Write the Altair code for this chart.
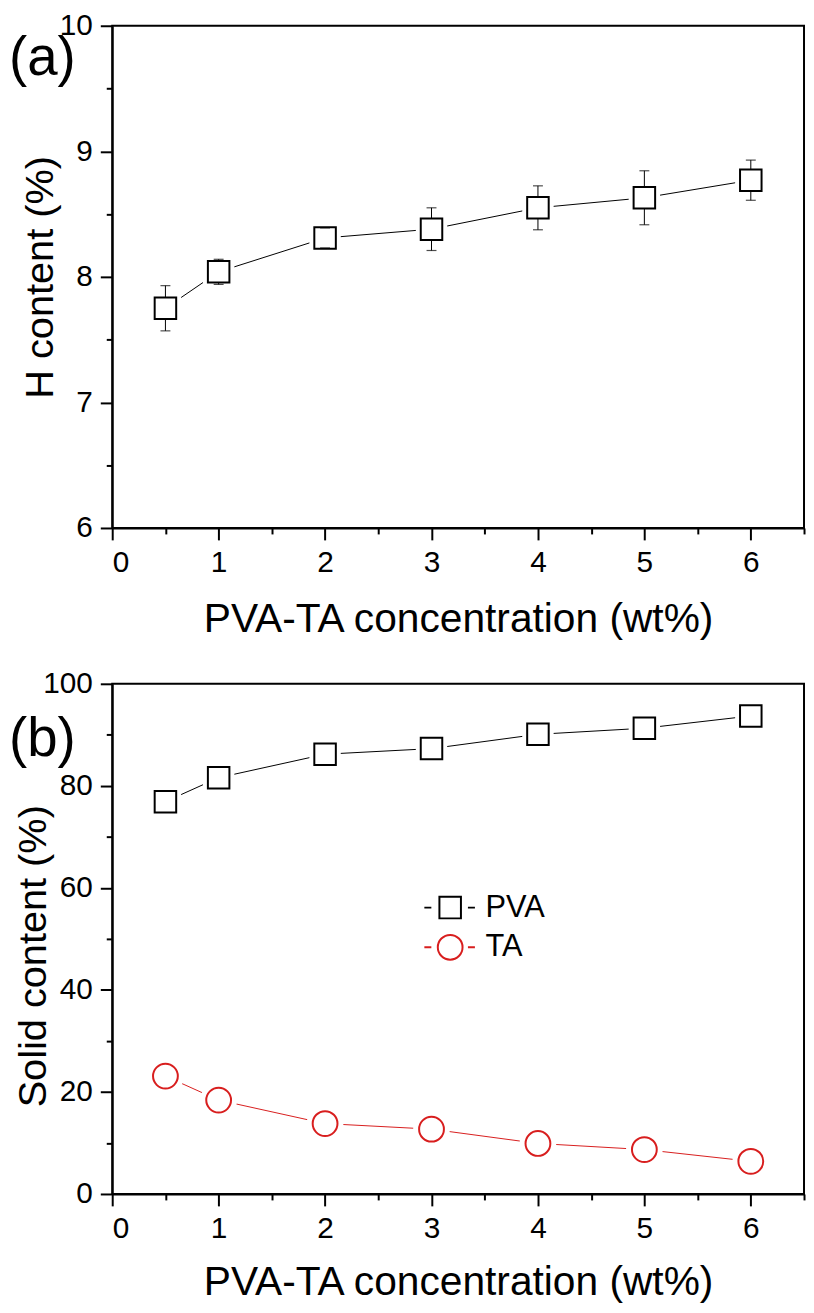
import altair as alt
import pandas as pd

# ---------------- data ----------------
conc = [0.5, 1, 2, 3, 4, 5, 6]
h_content = [7.75, 8.04, 8.31, 8.38, 8.55, 8.63, 8.77]
h_error = [0.18, 0.10, 0.08, 0.17, 0.175, 0.215, 0.16]
pva_solid = [76.9, 81.6, 86.2, 87.3, 90.1, 91.3, 93.7]
ta_solid = [23.1, 18.4, 13.8, 12.7, 9.9, 8.7, 6.4]
series_names = ["PVA", "TA"]

x_ticks = [0, 0.5, 1, 1.5, 2, 2.5, 3, 3.5, 4, 4.5, 5, 5.5, 6, 6.5]
h_ticks = [6, 6.5, 7, 7.5, 8, 8.5, 9, 9.5, 10]
solid_ticks = [0, 10, 20, 30, 40, 50, 60, 70, 80, 90, 100]

x_title = "PVA-TA concentration (wt%)"
h_title = "H content (%)"
solid_title = "Solid content (%)"
panel_labels = ["(a)", "(b)"]

# ---------------- style ----------------
FONT = "Liberation Sans"
BLACK = "#000000"
RED = "#d81e1e"
series_colors = [BLACK, RED]

# legend symbols: short dash - marker - short dash (Origin style)
PVA_SYMBOL = "M-2.4,0H-1.75M-1,-1H1V1H-1ZM1.65,0H2.3"
TA_SYMBOL = "M-2.4,0H-1.75M1.15,0A1.15,1.15,0,1,1,-1.15,0A1.15,1.15,0,1,1,1.15,0ZM1.65,0H2.3"

dfa = pd.DataFrame({
    "conc": conc,
    "h": h_content,
    "lo": [v - e for v, e in zip(h_content, h_error)],
    "hi": [v + e for v, e in zip(h_content, h_error)],
})

dfb = pd.DataFrame({
    "conc": conc + conc,
    "solid": pva_solid + ta_solid,
    "series": [series_names[0]] * len(conc) + [series_names[1]] * len(conc),
})


def make_axis(values, major_test, title, **kw):
    return alt.Axis(
        values=values,
        labelExpr=f"({major_test}) ? format(datum.value, 'd') : ''",
        tickSize={"condition": {"test": major_test, "value": 12}, "value": 6},
        title=title,
        **kw,
    )


def panel_title(text, dy):
    return alt.TitleParams(
        text=text, anchor="start", frame="group", orient="top",
        dx=-104, dy=dy, offset=0,
        fontSize=55, font=FONT, fontWeight="normal", color=BLACK,
    )


X_SCALE = alt.Scale(domain=[0, 6.5], nice=False, zero=False)

# ---------------- panel (a) ----------------
xa = alt.X("conc:Q", scale=X_SCALE,
           axis=make_axis(x_ticks, "datum.value % 1 === 0", x_title,
                          titlePadding=22))
ya = alt.Y("h:Q", scale=alt.Scale(domain=[6, 10], nice=False, zero=False),
           axis=make_axis(h_ticks, "datum.value % 1 === 0", h_title,
                          titleX=-60, titleBaseline="alphabetic"))

base_a = alt.Chart(dfa)
line_a = base_a.mark_line(color=BLACK, strokeWidth=1).encode(x=xa, y=ya)
halo_a = base_a.mark_point(shape="square", filled=True, color="white",
                           opacity=1, size=1000, strokeWidth=0).encode(x=xa, y=ya)
err_a = base_a.mark_rule(color=BLACK, strokeWidth=1).encode(x=xa, y="lo:Q", y2="hi:Q")
pts_a = base_a.mark_point(shape="square", filled=True, fill="white", stroke=BLACK,
                          strokeWidth=2, opacity=1, size=470).encode(x=xa, y=ya)
cap_lo = base_a.mark_tick(orient="horizontal", size=10, thickness=1.2,
                          color=BLACK).encode(x=xa, y="lo:Q")
cap_hi = base_a.mark_tick(orient="horizontal", size=10, thickness=1.2,
                          color=BLACK).encode(x=xa, y="hi:Q")

chart_a = alt.layer(line_a, halo_a, err_a, pts_a, cap_lo, cap_hi).properties(
    width=697, height=506, title=panel_title(panel_labels[0], 77)
)

# ---------------- panel (b) ----------------
xb = alt.X("conc:Q", scale=X_SCALE,
           axis=make_axis(x_ticks, "datum.value % 1 === 0", x_title,
                          titlePadding=19))
yb = alt.Y("solid:Q", scale=alt.Scale(domain=[0, 100], nice=False),
           axis=make_axis(solid_ticks, "datum.value % 20 === 0", solid_title,
                          titleX=-67, titleY=274, titleBaseline="alphabetic"))

base_b = alt.Chart(dfb)
layers_b = []
shapes = ["square", "circle"]
halo_sizes = [1000, 1370]
marker_sizes = [470, 625]
for name, col, shp, hs, ms in zip(series_names, series_colors, shapes,
                                  halo_sizes, marker_sizes):
    sub = base_b.transform_filter(alt.datum.series == name)
    layers_b.append(sub.mark_line(color=col, strokeWidth=1).encode(x=xb, y=yb))
    layers_b.append(sub.mark_point(shape=shp, filled=True, color="white", opacity=1,
                                   size=hs, strokeWidth=0).encode(x=xb, y=yb))
    layers_b.append(sub.mark_point(shape=shp, filled=True, fill="white", stroke=col,
                                   strokeWidth=2, opacity=1, size=ms).encode(x=xb, y=yb))

legend_b = alt.Legend(
    title=None, orient="none", legendX=325, legendY=210, padding=0,
    symbolSize=470, symbolStrokeWidth=2, symbolFillColor="transparent",
    labelFont=FONT, labelFontSize=31, labelColor=BLACK, labelOffset=20,
    rowPadding=8,
    labelExpr="datum.label === 'TA' ? '\u00a0TA' : datum.label",
)
legend_layer = base_b.mark_point(filled=False, opacity=0, strokeWidth=2).encode(
    x=xb, y=yb,
    color=alt.Color("series:N", scale=alt.Scale(domain=series_names, range=series_colors),
                    legend=legend_b),
    shape=alt.Shape("series:N", scale=alt.Scale(domain=series_names,
                                                range=[PVA_SYMBOL, TA_SYMBOL]),
                    legend=legend_b),
)
layers_b.append(legend_layer)

chart_b = alt.layer(*layers_b).properties(
    width=697, height=514, title=panel_title(panel_labels[1], 100)
)

chart = alt.vconcat(chart_a, chart_b, spacing=28).resolve_legend(
    color="independent", shape="independent"
).properties(
    padding={"left": 0, "top": -3, "right": 0, "bottom": 0}
).configure_axis(
    domainColor=BLACK, domainWidth=2, tickColor=BLACK, tickWidth=2,
    labelFont=FONT, labelFontSize=30, labelColor=BLACK, labelPadding=8,
    titleFont=FONT, titleColor=BLACK, titleFontWeight="normal", grid=False,
).configure_axisX(
    titleFontSize=41,
).configure_axisY(
    titleFontSize=40,
).configure_view(
    stroke=BLACK, strokeWidth=2,
)

chart.save("out.html", embed_options={"renderer": "svg", "actions": False})
